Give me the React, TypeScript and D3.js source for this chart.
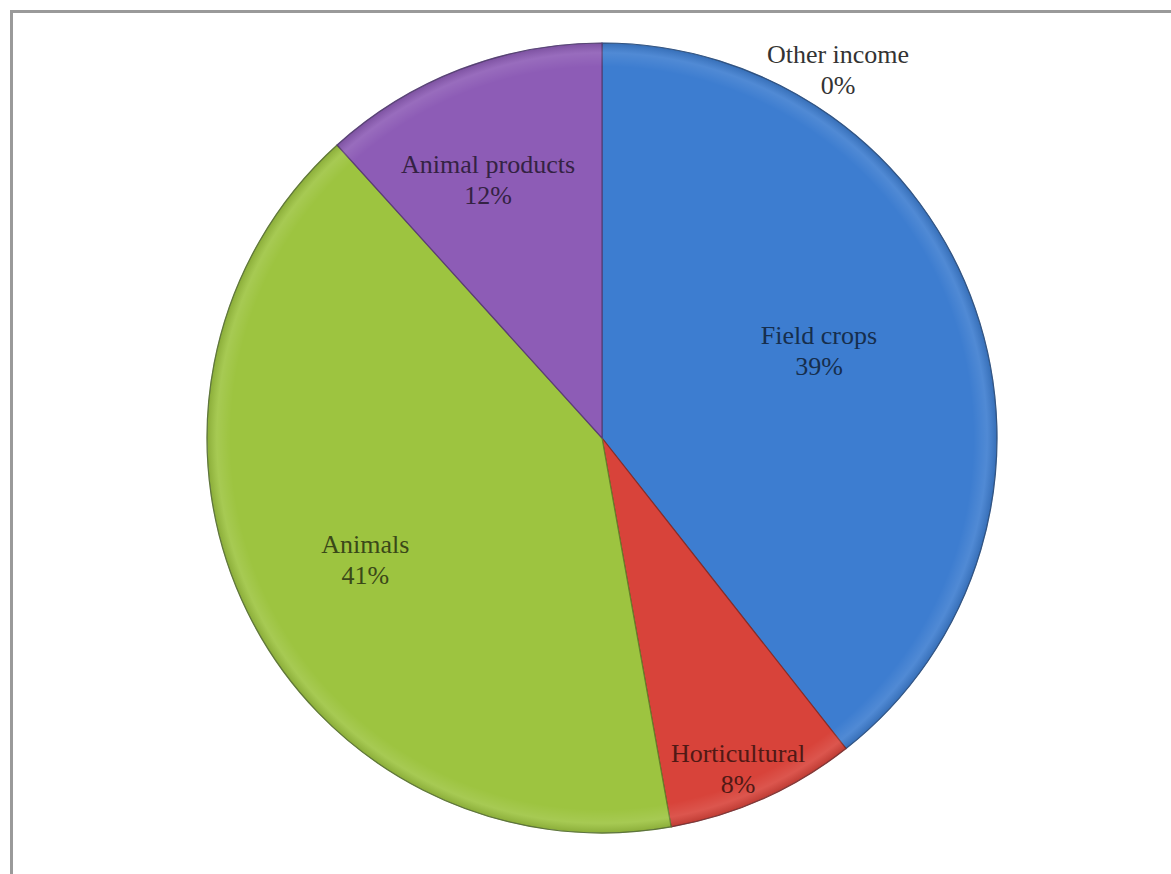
import React from "react";
import * as d3 from "d3";

const categories = ["Other income", "Field crops", "Horticultural", "Animals", "Animal products"];
const values = [0.0, 39.4, 7.8, 41.1, 11.7];
const colors = ["#4A7FC8", "#3D7DD0", "#D8433A", "#9DC440", "#8D5CB6"];

const W = 1171;
const H = 874;
const CX = 602;
const CY = 438;
const R = 395;

// label placement tweaks (radius fraction, angle offset in radians)
const labelPlacement: Record<string, { r: number; da: number }> = {
  "Other income": { r: 1.109, da: 0.569 },
  "Field crops": { r: 0.593, da: -0.053 },
  "Horticultural": { r: 0.904, da: 0.03 },
  "Animals": { r: 0.673, da: -0.017 },
  "Animal products": { r: 0.716, da: -0.047 },
};

export default function App() {
  const data = categories.map((c, i) => ({ name: c, value: values[i], color: colors[i] }));
  const pie = d3
    .pie<{ name: string; value: number; color: string }>()
    .value((d) => d.value)
    .sort(null);
  const arcs = pie(data);
  const arc = d3.arc<d3.PieArcDatum<any>>().innerRadius(0).outerRadius(R);

  return (
    <svg
      width={W}
      height={H}
      style={{ position: "absolute", left: 0, top: 0, background: "#fff" }}
      fontFamily="'Liberation Serif', 'Times New Roman', serif"
    >
      <defs>
        <radialGradient id="shade" cx="0.5" cy="0.5" r="0.5">
          <stop offset="0%" stopColor="#fff" stopOpacity={0} />
          <stop offset="94%" stopColor="#fff" stopOpacity={0} />
          <stop offset="97.5%" stopColor="#fff" stopOpacity={0.1} />
          <stop offset="100%" stopColor="#000" stopOpacity={0.12} />
        </radialGradient>
      </defs>
      <rect x={11.5} y={11.5} width={W + 10} height={H + 10} fill="#fff" stroke="#9a9a9a" strokeWidth={3} />
      <g transform={`translate(${CX},${CY})`}>
        {arcs.map((a, i) =>
          a.data.value > 0 ? (
            <path
              key={i}
              d={arc(a) as string}
              fill={a.data.color}
              stroke={d3.color(a.data.color)!.darker(1.2).toString()}
              strokeWidth={1.2}
            />
          ) : null
        )}
        <circle r={R} fill="url(#shade)" />
        <circle r={R} fill="none" stroke="#5a6a80" strokeOpacity={0.3} strokeWidth={1} />
        {arcs.map((a, i) => {
          const p = labelPlacement[a.data.name];
          const mid = (a.startAngle + a.endAngle) / 2 + p.da;
          const x = Math.sin(mid) * R * p.r;
          const y = -Math.cos(mid) * R * p.r;
          const txt =
            a.data.value > 0 ? d3.color(a.data.color)!.darker(2.8).toString() : "#333";
          return (
            <text key={i} textAnchor="middle" fontSize={26} fill={txt} dominantBaseline="central">
              <tspan x={x} y={y - 15}>{a.data.name}</tspan>
              <tspan x={x} y={y + 16}>{`${Math.round(a.data.value)}%`}</tspan>
            </text>
          );
        })}
      </g>
    </svg>
  );
}
